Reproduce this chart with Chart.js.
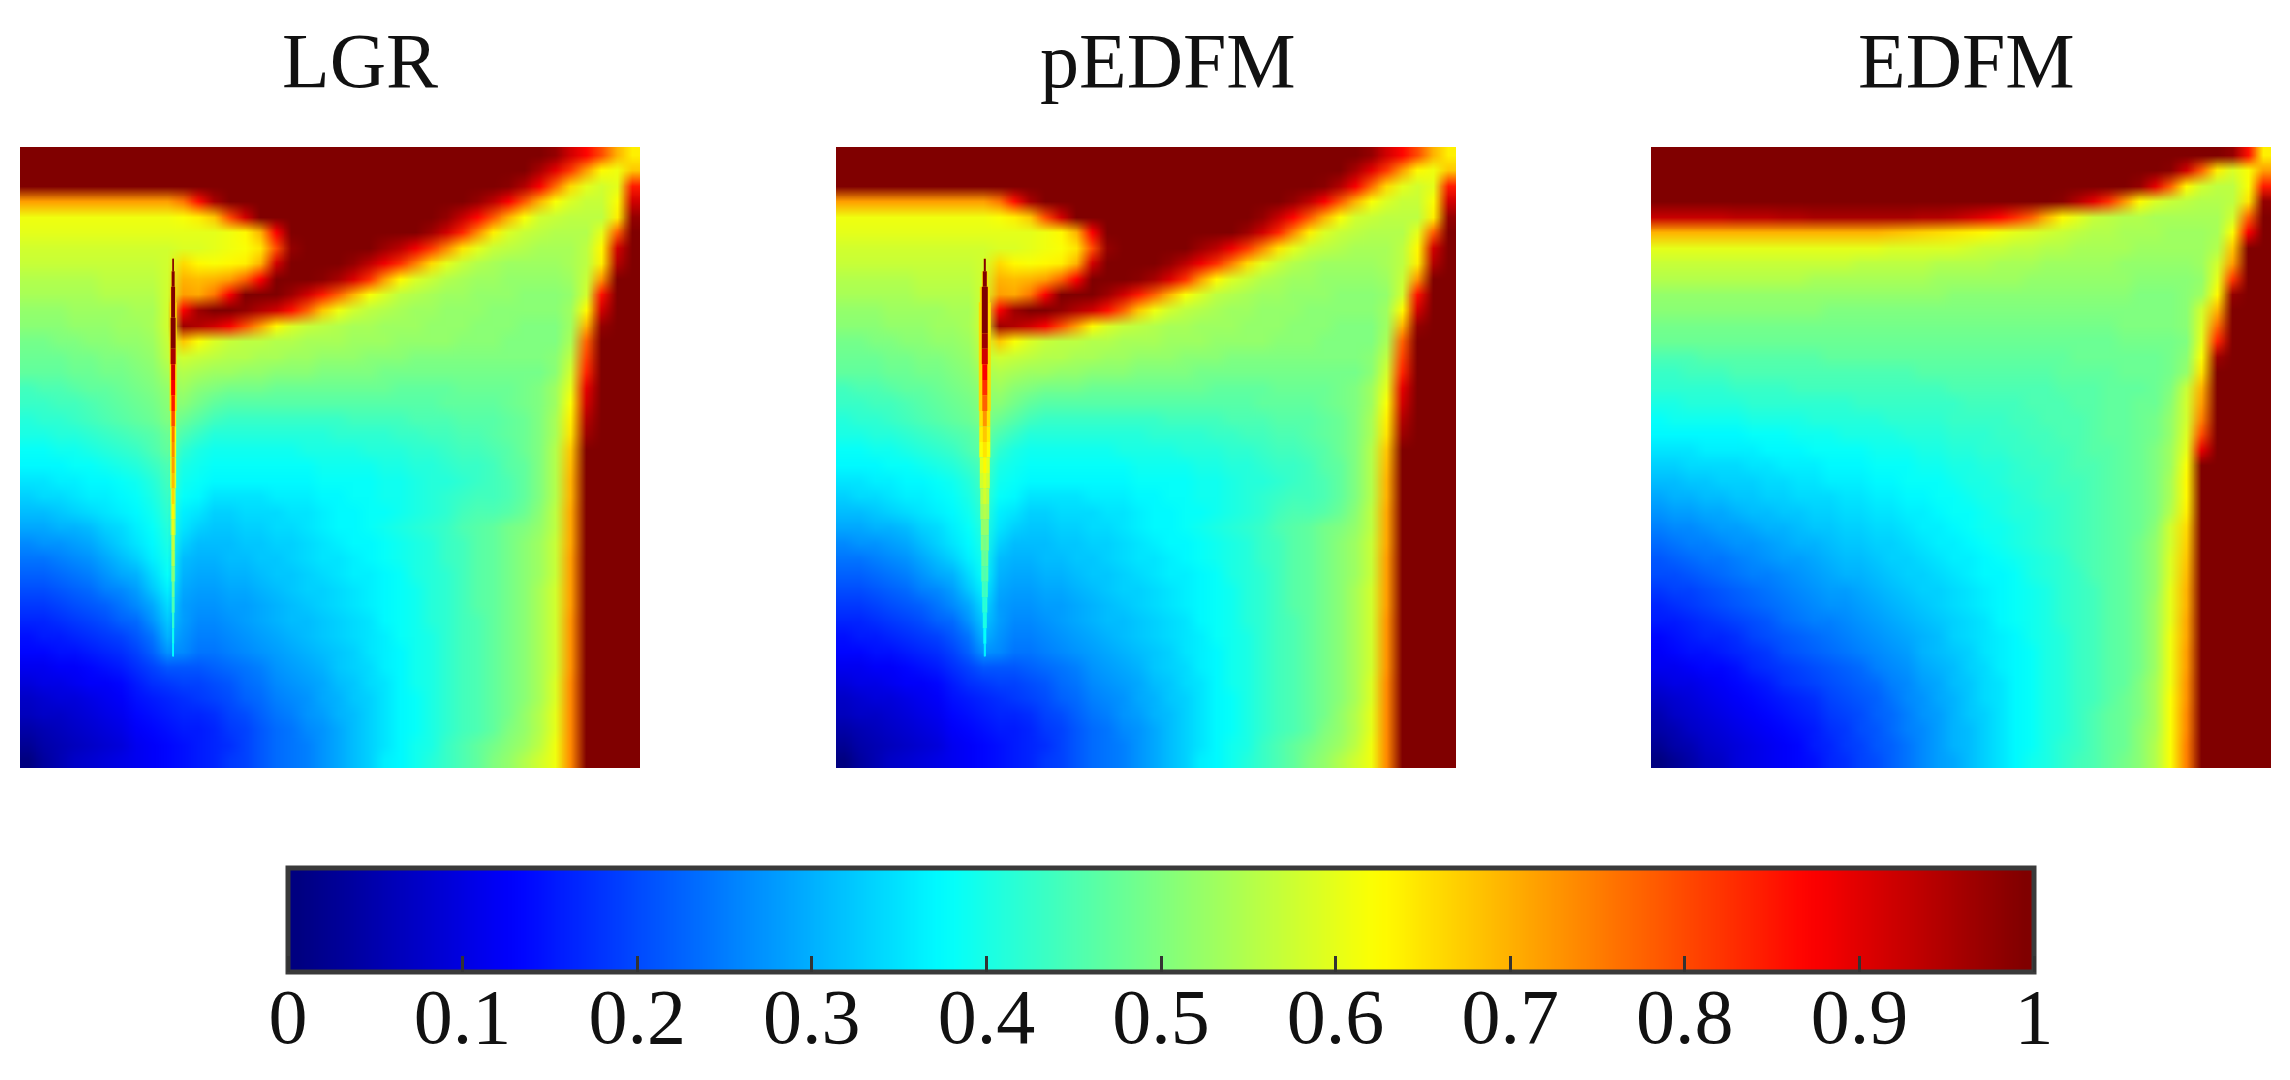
<!DOCTYPE html>
<html>
<head>
<meta charset="utf-8">
<script src="https://cdn.jsdelivr.net/npm/chart.js@4"></script>
<style>
  html, body { margin: 0; background: #fff; }
  #stage { position: relative; width: 2290px; height: 1080px; overflow: hidden; filter: blur(0.7px); }
  canvas { position: absolute; }
  .title { position: absolute; top: 11px; font: 78px/100px "Liberation Serif", serif; color: #111; white-space: nowrap; }
</style>
</head>
<body>
<div id="stage">
  <canvas id="barCells" width="1746" height="104" style="left:288px;top:868px;width:1746px;height:104px"></canvas>
  <canvas id="barAxis" width="2290" height="1080" style="left:0;top:0;width:2290px;height:1080px"></canvas>
  <canvas id="heatLgr" width="620" height="620" style="left:20px;top:147px;width:620px;height:621px"></canvas>
  <canvas id="heatPedfm" width="620" height="620" style="left:836px;top:147px;width:620px;height:621px"></canvas>
  <canvas id="heatEdfm" width="620" height="620" style="left:1651px;top:147px;width:620px;height:621px"></canvas>
  <canvas id="fracLgr" width="620" height="621" style="left:20px;top:147px;width:620px;height:621px"></canvas>
  <canvas id="fracPedfm" width="620" height="621" style="left:836px;top:147px;width:620px;height:621px"></canvas>
  <div class="title" style="left:282px">LGR</div>
  <div class="title" style="left:1040px">pEDFM</div>
  <div class="title" style="left:1858px">EDFM</div>
</div>
<script>
// saturation, in percent, rows from the top, 40 x 40 cells
// LGR and pEDFM matrix fields look the same here, only the fracture differs
const matrixField = [
[100,100,100,100,100,100,100,100,100,100,100,100,100,100,100,100,100,100,100,100,100,100,100,100,100,100,100,100,100,100,100,100,100,100,98,92,87,80,70,64],
[100,100,100,100,100,100,100,100,100,100,100,100,100,100,100,100,100,100,100,100,100,100,100,100,100,100,100,100,100,100,100,100,100,96,90,82,72,63,61,68],
[100,100,100,100,100,100,100,100,100,100,100,100,100,100,100,100,100,100,100,100,100,100,100,100,100,100,100,100,100,100,100,99,95,88,77,66,60,58,60,85],
[72,72,72,72,72,72,72,72,72,72,76,86,96,100,100,100,100,100,100,100,100,100,100,100,100,100,100,100,100,98,94,88,79,70,62,59,57,57,62,92],
[61,61,61,61,61,61,61,61,61,61,62,64,68,80,92,100,100,100,100,100,100,100,100,100,100,100,100,98,93,87,79,70,62,58,57,56,56,56,64,98],
[60,60,60,60,60,60,60,60,60,60,60,60,60,61,63,70,88,100,100,100,100,100,100,100,100,100,97,92,84,74,64,59,57,56,55,55,55,60,78,100],
[58,58,58,58,58,58,58,58,58,58,59,59,60,61,62,65,80,98,100,100,100,100,100,97,94,89,82,74,65,60,57,56,55,54,54,54,56,63,92,100],
[57,57,57,57,57,57,57,57,57,58,66,63,62,63,64,70,92,100,100,100,100,98,94,89,83,75,66,60,57,55,54,53,53,53,53,54,56,64,95,100],
[55,55,55,55,55,56,56,56,56,58,70,69,70,72,78,88,100,100,100,99,96,91,83,72,63,59,57,55,54,53,53,52,52,52,52,53,57,73,100,100],
[54,54,54,54,54,55,55,55,55,58,72,71,76,88,100,100,100,97,92,85,78,70,62,59,56,55,54,53,53,52,52,52,51,51,51,52,58,86,100,100],
[52,52,52,53,53,53,53,54,54,58,88,97,100,100,98,95,92,86,78,68,61,58,56,55,54,53,53,52,52,52,51,51,51,51,51,53,63,92,100,100],
[51,51,51,52,52,52,53,53,54,58,97,95,92,88,80,72,63,59,57,56,55,54,54,53,53,53,52,52,52,51,51,51,50,50,50,53,70,98,100,100],
[49,49,50,50,51,51,52,52,53,57,68,62,59,57,56,56,55,55,54,54,54,53,53,53,52,52,52,52,51,51,51,50,50,50,50,54,78,100,100,100],
[48,48,48,49,49,50,50,51,52,56,58,57,56,55,55,54,54,53,53,52,52,52,51,51,51,50,50,50,50,50,50,50,50,50,51,56,81,100,100,100],
[47,47,47,48,48,49,49,50,51,54,55,54,53,53,52,52,51,51,51,50,50,50,50,49,49,49,49,49,49,49,49,49,49,49,51,58,84,100,100,100],
[44,45,45,46,47,47,48,49,50,52,53,51,50,49,49,49,48,48,48,48,48,48,48,48,47,47,47,47,48,48,48,48,49,50,53,60,90,100,100,100],
[43,43,44,44,45,46,47,48,49,51,51,49,47,46,46,46,46,46,46,46,46,46,46,46,46,46,46,47,47,47,47,48,49,50,53,62,92,100,100,100],
[41,42,42,43,44,45,46,47,48,50,48,46,44,43,43,43,43,43,43,43,43,44,44,44,44,45,45,45,46,46,46,47,48,50,54,64,95,100,100,100],
[40,40,41,41,42,43,44,45,46,48,45,43,41,41,41,41,41,41,41,41,42,42,42,42,43,43,44,44,45,45,46,47,48,50,54,65,97,100,100,100],
[38,38,39,39,40,41,42,43,45,47,42,40,39,39,39,39,39,39,40,40,40,40,41,41,41,42,42,43,44,44,45,46,48,50,55,68,100,100,100,100],
[37,37,37,38,38,39,40,41,43,45,40,39,38,38,38,38,38,38,38,39,39,39,39,40,40,41,41,42,43,43,44,46,47,50,55,69,100,100,100,100],
[35,35,36,36,37,37,38,39,41,44,39,38,37,37,37,37,37,37,37,38,38,38,38,39,39,40,41,41,42,43,44,45,47,50,55,70,100,100,100,100],
[33,34,34,35,36,36,37,38,40,43,38,37,35,35,35,35,36,36,36,37,37,38,38,39,39,40,41,42,43,44,44,45,47,50,55,70,100,100,100,100],
[31,31,32,33,34,35,36,37,39,42,36,35,33,33,34,34,34,35,35,36,37,37,38,38,39,40,41,42,44,45,45,46,48,51,56,71,100,100,100,100],
[29,29,30,30,31,33,34,36,38,41,35,33,32,32,33,33,34,34,35,36,37,37,38,39,40,41,42,43,45,46,47,49,50,52,56,71,100,100,100,100],
[26,27,27,28,29,31,33,35,37,40,33,31,31,31,32,32,33,33,34,35,36,37,37,38,39,40,41,43,44,46,47,49,51,53,57,71,100,100,100,100],
[24,24,25,26,27,29,31,33,36,39,31,30,30,31,31,32,32,33,34,35,35,36,37,38,39,40,41,43,44,46,47,49,51,53,57,72,100,100,100,100],
[22,22,23,24,25,27,29,30,34,38,30,29,29,30,30,31,32,32,33,34,35,36,36,37,38,40,41,42,44,46,47,49,51,53,57,72,100,100,100,100],
[20,20,21,22,23,25,26,28,32,36,29,28,28,29,29,30,31,32,33,33,34,35,36,37,38,39,41,42,44,46,47,49,51,54,58,72,100,100,100,100],
[18,18,19,20,21,22,24,26,29,34,28,27,27,28,28,29,30,31,32,33,34,35,36,37,38,39,41,42,44,46,47,49,51,54,58,72,100,100,100,100],
[16,16,17,18,19,20,22,23,27,32,28,26,26,27,28,29,30,31,31,32,33,34,35,37,38,39,41,42,44,45,47,49,51,54,58,73,100,100,100,100],
[14,15,15,16,17,18,19,21,24,30,27,25,25,26,27,28,29,30,31,32,33,34,35,36,38,39,40,42,44,45,47,49,51,54,58,73,100,100,100,100],
[13,13,14,14,15,16,17,19,22,27,26,24,24,25,26,27,28,29,30,31,32,33,35,36,37,39,40,42,44,45,47,49,51,54,58,73,100,100,100,100],
[11,11,12,12,13,14,15,17,19,21,21,21,22,23,24,25,27,28,29,30,32,33,34,36,37,39,40,42,44,45,47,49,51,54,58,73,100,100,100,100],
[9,10,10,11,12,12,13,15,17,18,19,19,20,21,23,24,26,27,28,29,31,32,34,35,37,39,40,42,44,45,47,49,51,54,59,74,100,100,100,100],
[7,8,9,9,10,11,12,14,15,16,17,18,19,20,22,23,25,26,27,29,30,32,33,35,37,38,40,42,44,45,47,49,51,54,59,74,100,100,100,100],
[6,7,7,8,9,10,11,13,14,15,16,16,17,19,20,22,24,25,27,28,30,31,33,35,37,38,40,42,44,45,47,49,52,55,60,74,100,100,100,100],
[4,5,6,7,8,9,10,12,13,14,15,15,16,18,19,21,23,24,26,27,29,31,33,35,37,38,40,42,44,45,47,50,52,55,60,74,100,100,100,100],
[2,4,5,6,7,8,9,11,12,13,14,15,16,17,19,21,23,24,25,27,29,31,33,35,37,39,40,43,45,47,49,51,53,56,61,74,100,100,100,100],
[0,3,5,7,8,9,10,11,12,13,14,15,16,18,19,21,23,24,25,27,29,31,33,36,37,39,41,43,45,47,50,52,55,58,61,74,100,100,100,100]
];

const edfmField = [
[100,100,100,100,100,100,100,100,100,100,100,100,100,100,100,100,100,100,100,100,100,100,100,100,100,100,100,100,100,100,100,100,100,100,100,100,100,98,86,64],
[100,100,100,100,100,100,100,100,100,100,100,100,100,100,100,100,100,100,100,100,100,100,100,100,100,100,100,100,100,100,100,100,100,99,92,78,64,59,62,72],
[100,100,100,100,100,100,100,100,100,100,100,100,100,100,100,100,100,100,100,100,100,100,100,100,100,100,100,100,100,100,100,98,90,78,63,58,56,56,62,85],
[100,100,100,100,100,100,100,100,100,100,100,100,100,100,100,100,100,100,100,100,100,100,100,100,100,100,99,95,90,83,73,63,59,57,56,55,55,56,65,98],
[93,93,93,93,93,94,94,94,95,95,96,96,96,96,96,96,96,95,95,94,92,90,87,83,78,70,63,60,57,56,55,55,54,54,54,54,54,58,78,100],
[70,70,70,70,70,70,70,70,70,70,70,70,70,70,70,69,68,67,66,65,64,63,61,60,59,58,57,56,55,55,54,54,54,53,53,53,54,62,88,100],
[60,60,60,60,60,60,60,60,60,60,60,60,60,60,60,59,59,59,59,59,58,57,57,56,56,55,55,54,54,54,54,53,53,53,53,53,55,68,100,100],
[57,57,57,57,57,57,57,57,57,57,57,57,57,56,56,56,56,56,55,55,55,55,54,54,54,53,53,53,53,53,52,52,52,52,52,53,58,72,100,100],
[55,55,55,55,55,55,55,55,55,55,54,54,54,54,54,54,54,54,53,53,53,53,53,53,52,52,52,52,52,52,52,51,51,51,51,52,60,82,100,100],
[52,52,52,52,52,52,52,52,52,52,52,52,52,52,52,52,52,52,52,51,51,51,51,51,51,51,51,51,51,51,51,50,50,50,51,53,63,98,100,100],
[51,51,51,51,51,51,51,51,51,51,51,50,50,50,50,50,50,50,50,50,50,50,50,50,50,50,50,50,50,50,50,50,50,50,51,58,70,100,100,100],
[49,49,49,49,49,49,49,49,49,49,49,49,49,49,49,49,49,49,49,49,49,49,49,49,49,49,49,49,49,49,50,50,50,50,51,59,77,100,100,100],
[48,48,48,48,48,48,48,48,48,48,48,48,48,48,48,48,48,48,48,48,48,48,48,48,48,48,48,48,48,48,49,49,49,49,50,60,84,100,100,100],
[45,45,45,46,46,46,46,46,46,46,46,47,47,47,47,47,47,47,47,47,47,47,47,47,47,47,47,48,48,48,48,48,48,49,51,62,97,100,100,100],
[43,43,44,44,44,45,45,45,45,45,45,45,45,45,45,45,45,46,46,46,46,46,46,46,46,46,47,47,47,47,48,48,48,49,52,65,100,100,100,100],
[42,42,42,42,42,43,43,43,43,44,44,44,44,44,44,44,44,44,44,45,45,45,45,45,45,45,46,46,46,47,47,47,48,50,57,70,100,100,100,100],
[40,40,41,41,41,41,42,42,42,42,42,42,42,43,43,43,43,43,43,43,44,44,44,44,45,45,45,46,46,47,47,48,48,51,58,72,100,100,100,100],
[38,39,39,39,39,39,40,40,40,40,41,41,41,41,41,42,42,42,42,43,43,43,43,44,44,45,45,45,46,47,47,48,49,52,58,75,100,100,100,100],
[37,37,37,37,37,37,38,38,38,39,39,39,40,40,40,40,41,41,41,42,42,42,43,43,44,44,45,45,46,47,47,48,49,52,59,80,100,100,100,100],
[35,35,35,36,36,36,36,37,37,37,38,38,38,38,39,39,39,40,40,41,41,42,42,43,43,44,44,45,46,46,47,48,50,53,60,90,100,100,100,100],
[33,33,34,34,34,34,35,35,36,36,36,37,37,37,38,38,38,39,39,40,40,41,41,42,43,43,44,45,45,46,47,48,50,53,62,100,100,100,100,100],
[31,31,32,32,33,33,33,34,34,35,35,36,36,36,37,37,38,38,38,39,40,40,41,42,42,43,44,44,45,46,47,48,50,54,63,100,100,100,100,100],
[29,30,30,31,31,32,32,33,33,34,34,34,35,35,36,36,37,37,38,38,39,40,40,41,42,43,43,44,45,46,47,48,50,54,63,100,100,100,100,100],
[27,28,28,29,29,30,31,31,32,32,33,33,34,34,35,35,36,36,37,38,38,39,40,41,41,42,43,44,45,46,47,48,50,55,64,100,100,100,100,100],
[25,26,26,27,28,28,29,30,30,31,32,32,33,33,34,34,35,36,36,37,38,39,39,40,41,42,43,44,45,46,47,48,51,58,66,100,100,100,100,100],
[23,24,25,25,26,27,27,28,29,30,30,31,32,32,33,33,34,35,36,36,37,38,39,40,41,42,43,44,45,46,47,49,52,58,67,100,100,100,100,100],
[21,22,23,24,24,25,26,27,28,28,29,30,31,31,32,33,33,34,35,36,36,37,38,39,40,41,42,44,45,46,47,49,52,59,68,100,100,100,100,100],
[20,20,21,22,23,24,25,25,26,27,28,29,30,30,31,32,33,33,34,35,36,37,37,38,40,41,42,43,45,46,47,49,52,59,69,100,100,100,100,100],
[18,19,19,20,21,22,23,24,25,26,27,28,28,29,30,31,32,33,33,34,35,36,37,38,39,40,42,43,44,46,47,49,52,60,70,100,100,100,100,100],
[16,17,18,19,20,21,22,23,24,25,26,27,27,28,29,30,31,32,33,34,35,36,37,38,39,40,42,43,44,46,47,49,53,60,70,100,100,100,100,100],
[15,15,16,17,18,19,20,21,23,24,25,25,26,27,28,29,30,31,32,33,34,35,37,38,39,40,42,43,44,46,47,49,53,60,71,100,100,100,100,100],
[13,14,15,16,16,17,19,20,21,22,23,24,25,26,27,28,29,30,31,33,34,35,36,37,39,40,41,43,44,46,47,49,53,61,71,100,100,100,100,100],
[12,13,14,14,15,16,17,18,20,21,22,23,24,25,26,27,28,30,31,32,33,35,36,37,38,40,41,43,44,46,47,49,53,61,72,100,100,100,100,100],
[11,11,12,13,13,14,16,17,18,19,20,21,22,23,25,26,27,29,30,31,33,34,36,37,38,40,41,43,44,46,47,49,53,61,72,100,100,100,100,100],
[9,10,10,11,12,13,14,15,17,18,19,20,21,22,23,25,26,28,29,31,32,34,35,37,38,40,41,43,44,46,47,50,54,61,73,100,100,100,100,100],
[7,8,9,10,11,12,13,14,15,16,17,19,20,21,22,24,26,27,29,30,32,34,35,37,38,40,41,43,44,46,48,50,54,62,73,100,100,100,100,100],
[5,7,8,9,10,11,12,13,14,15,16,18,19,20,22,23,25,27,28,30,32,33,35,37,38,40,41,43,45,47,48,50,54,62,74,100,100,100,100,100],
[4,5,7,8,9,10,11,12,13,14,15,17,18,20,21,23,25,26,28,30,31,33,35,37,38,40,41,43,45,47,48,51,54,62,74,100,100,100,100,100],
[2,4,5,7,8,9,10,11,12,13,15,16,18,19,21,22,24,26,28,30,31,33,35,37,38,40,42,43,45,47,48,51,55,62,75,100,100,100,100,100],
[0,2,4,6,7,9,10,11,12,13,14,16,17,19,20,22,24,26,28,29,31,33,35,37,39,40,42,44,45,47,49,51,55,62,75,100,100,100,100,100]
];

// fracture: depth in grid rows, saturation along it, line widths
const fractureRows = [7.2,8,9,10,11,12,13,14,15,16,17,18,19,20,21,22,23,24,25,26,27,28,29,30,31,32,32.8];
const lgrFractureValues = [100,100,100,100,100,100,96,92,88,85,80,76,74,72,69,66,63,60,57,55,51,48,45,42,39,37,35];
const lgrFractureWidths = [1,3,4,4,5,5,5,4,4,3.5,3.5,3,3,3,3,2.5,2.5,2.5,2,2,2,2,2,2,1.5,1,1];
const lgrHaloValues = [66,66,66,66,66,66,66,66,66,66,64,62,61,60,59,58,56,54,52,50,47,45,43,41,39,37,35];
const lgrHaloWidths = [2,4,6,7,7,7,7,7,7,7,6,6,6,6,6,5,5,5,4,4,4,3,3,2,2,1,1];
const pedfmFractureValues = [100,100,100,100,100,97,92,88,83,78,73,68,65,63,60,58,55,52,49,47,45,43,41,40,38,36,34];
const pedfmFractureWidths = [2,4,6,6,6,6,6,5,5,5,4,4,4,3,3,3,3,3,3,2,2,2,2,2,1.5,1,1];
const pedfmHaloValues = [66,66,66,66,66,66,66,66,66,66,65,64,62,60,58,56,54,52,50,48,46,44,42,40,38,36,34];
const pedfmHaloWidths = [2,6,10,12,12,12,12,12,12,12,11,11,11,10,10,9,9,8,8,7,7,6,5,4,3,2,1];
const lgrFractureColumn = 9.88;
const pedfmFractureColumn = 9.6;

// colour bar
const barLevels = [0,0.01,0.02,0.03,0.04,0.05,0.06,0.07,0.08,0.09,0.1,0.11,0.12,0.13,0.14,0.15,0.16,0.17,0.18,0.19,0.2,0.21,0.22,0.23,0.24,0.25,0.26,0.27,0.28,0.29,0.3,0.31,0.32,0.33,0.34,0.35,0.36,0.37,0.38,0.39,0.4,0.41,0.42,0.43,0.44,0.45,0.46,0.47,0.48,0.49,0.5,0.51,0.52,0.53,0.54,0.55,0.56,0.57,0.58,0.59,0.6,0.61,0.62,0.63,0.64,0.65,0.66,0.67,0.68,0.69,0.7,0.71,0.72,0.73,0.74,0.75,0.76,0.77,0.78,0.79,0.8,0.81,0.82,0.83,0.84,0.85,0.86,0.87,0.88,0.89,0.9,0.91,0.92,0.93,0.94,0.95,0.96,0.97,0.98,0.99,1];
const tickLabels = ['0','0.1','0.2','0.3','0.4','0.5','0.6','0.7','0.8','0.9','1'];

function jet(v) {
  const ch = c => Math.round(255 * Math.min(1, Math.max(0, 1.5 - Math.abs(4 * v - c))));
  return `rgb(${ch(3)},${ch(2)},${ch(1)})`;
}

const gridScales = {
  x: {type: 'linear', min: 0, max: 40, display: false},
  y: {type: 'linear', min: 0, max: 40, reverse: true, display: false}
};

function heatChart(id, field) {
  const cells = [];
  const colors = [];
  field.forEach((row, r) => row.forEach((val, c) => {
    cells.push({x: c + 0.5, y: r + 0.5});
    colors.push(jet(val / 100));
  }));
  return new Chart(document.getElementById(id), {
    type: 'scatter',
    data: {datasets: [{data: cells, pointStyle: 'rect', pointRadius: 11, pointBorderWidth: 0, pointBackgroundColor: colors}]},
    options: {
      responsive: false,
      animation: false,
      events: [],
      // one canvas pixel per cell, the browser smooths it when it scales the canvas up
      devicePixelRatio: 40.0001 / 620,
      layout: {autoPadding: false},
      plugins: {legend: {display: false}, tooltip: {enabled: false}},
      scales: gridScales
    }
  });
}

function lineSet(col, values, widths) {
  return {
    data: fractureRows.map(r => ({x: col, y: r})),
    showLine: true,
    pointRadius: 0,
    borderCapStyle: 'butt',
    segment: {
      borderColor: ctx => jet(values[ctx.p0DataIndex] / 100),
      borderWidth: ctx => widths[ctx.p0DataIndex]
    }
  };
}

function fractureChart(id, sets) {
  return new Chart(document.getElementById(id), {
    type: 'scatter',
    data: {datasets: sets},
    options: {
      responsive: false,
      animation: false,
      events: [],
      layout: {autoPadding: false},
      plugins: {legend: {display: false}, tooltip: {enabled: false}},
      scales: gridScales
    }
  });
}

heatChart('heatLgr', matrixField);
heatChart('heatPedfm', matrixField);
heatChart('heatEdfm', edfmField);
fractureChart('fracLgr', [
  lineSet(lgrFractureColumn, lgrFractureValues, lgrFractureWidths),
  lineSet(lgrFractureColumn, lgrHaloValues, lgrHaloWidths)
]);
fractureChart('fracPedfm', [
  lineSet(pedfmFractureColumn, pedfmFractureValues, pedfmFractureWidths),
  lineSet(pedfmFractureColumn, pedfmHaloValues, pedfmHaloWidths)
]);

// colour bar cells, same low resolution trick as the panels
new Chart(document.getElementById('barCells'), {
  type: 'bar',
  data: {datasets: [{
    data: barLevels.map(v => ({x: v, y: 1})),
    backgroundColor: barLevels.map(jet),
    barThickness: 1.02 * 1746 / 101,
    borderWidth: 0
  }]},
  options: {
    responsive: false,
    animation: false,
    events: [],
    devicePixelRatio: 101.01 / 1746,
    layout: {autoPadding: false},
    plugins: {legend: {display: false}, tooltip: {enabled: false}},
    scales: {
      x: {type: 'linear', min: -0.005, max: 1.005, offset: false, display: false, grid: {offset: false}},
      y: {type: 'linear', min: 0, max: 1, display: false}
    }
  }
});

const frame = {
  id: 'frame',
  afterDatasetsDraw(chart) {
    const a = chart.chartArea;
    const ctx = chart.ctx;
    ctx.save();
    ctx.strokeStyle = '#3a3a3a';
    ctx.lineWidth = 5;
    ctx.strokeRect(a.left, a.top, a.right - a.left, a.bottom - a.top);
    ctx.restore();
  }
};

new Chart(document.getElementById('barAxis'), {
  type: 'scatter',
  data: {datasets: [{data: []}]},
  options: {
    responsive: false,
    animation: false,
    events: [],
    layout: {autoPadding: false, padding: {left: 288, right: 256, top: 868, bottom: 0}},
    plugins: {legend: {display: false}, tooltip: {enabled: false}},
    scales: {
      x: {
        type: 'linear', position: 'bottom', min: 0, max: 1,
        afterFit(s) { s.height = 108; s.paddingLeft = 0; s.paddingRight = 0; },
        border: {display: false},
        grid: {z: 1, drawOnChartArea: false, tickLength: -16, tickWidth: 3, tickColor: '#333'},
        ticks: {
          stepSize: 0.1, autoSkip: false, maxRotation: 0, minRotation: 0, padding: 20,
          color: '#111',
          font: {family: '"Liberation Serif", serif', size: 78},
          callback: (v, i) => tickLabels[i]
        }
      },
      y: {type: 'linear', min: 0, max: 1, display: false}
    }
  },
  plugins: [frame]
});
</script>
</body>
</html>
